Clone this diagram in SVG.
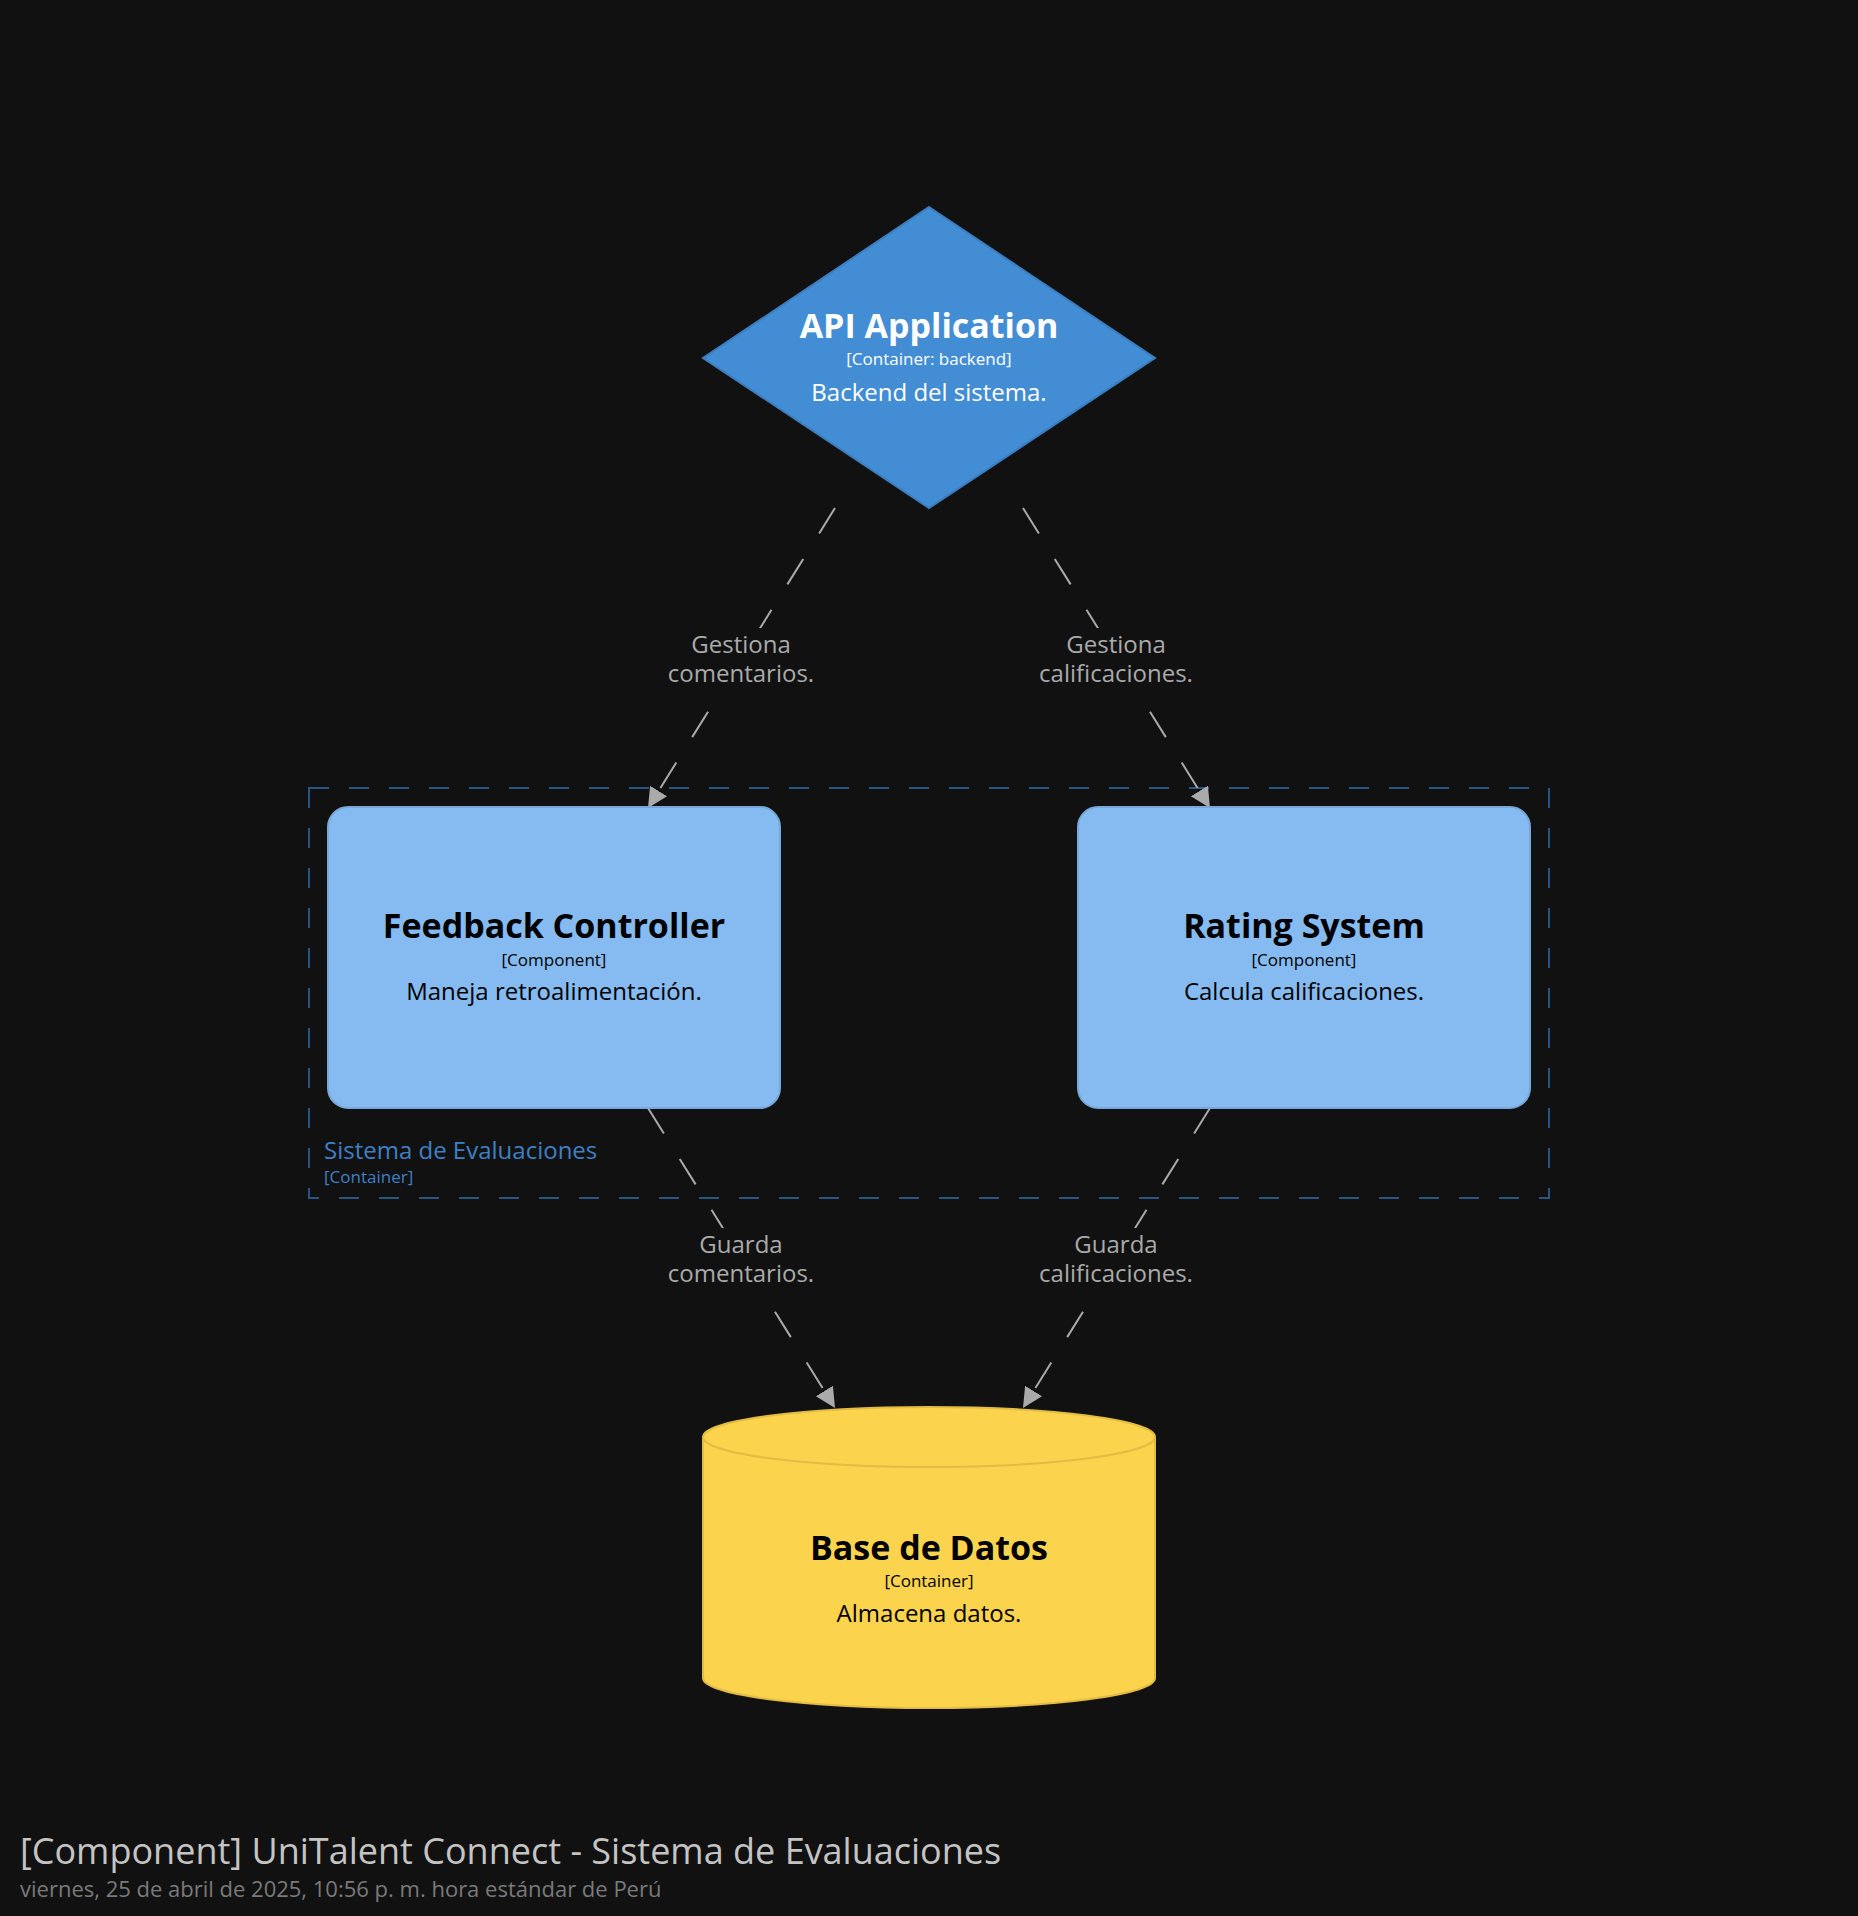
<svg xmlns="http://www.w3.org/2000/svg" width="1858" height="1916" viewBox="0 0 1858 1916">
<defs>
<style>
.t{font-family:"Open Sans","Noto Sans","DejaVu Sans",sans-serif;text-anchor:middle}
.name{font-size:34px;font-weight:bold}
.meta{font-size:17px}
.desc{font-size:24px}
.lbl{font-family:"Open Sans","Noto Sans","DejaVu Sans",sans-serif;font-size:24px;fill:#aaaaaa;text-anchor:middle}
.edge{stroke:#aaaaaa;stroke-width:2;stroke-dasharray:30 30;fill:none}
.lblbg{fill:#111111}
</style>
<marker id="arr" markerUnits="userSpaceOnUse" markerWidth="22" markerHeight="22" refX="20" refY="10" orient="auto" viewBox="0 0 22 22">
<path d="M0,0 L20,10 L0,20 Z" fill="#aaaaaa"/>
</marker>
</defs>
<rect x="0" y="0" width="1858" height="1916" fill="#111111"/>

<g id="boundary-sistema">
<rect x="309" y="788" width="1240" height="410" fill="none" stroke="#285581" stroke-width="2" stroke-dasharray="20 20"/>
<text x="324" y="1159" font-family="'Open Sans','Noto Sans',sans-serif" font-size="24" fill="#3f80c4">Sistema de Evaluaciones</text>
<text x="324" y="1183" font-family="'Open Sans','Noto Sans',sans-serif" font-size="17" fill="#3f80c4">[Container]</text>
</g>

<g id="connectors">
<line class="edge" x1="835" y1="508" x2="648" y2="808" marker-end="url(#arr)"/>
<line class="edge" x1="1023" y1="508" x2="1210" y2="808" marker-end="url(#arr)"/>
<line class="edge" x1="648" y1="1108" x2="835" y2="1408" marker-end="url(#arr)"/>
<line class="edge" x1="1210" y1="1108" x2="1023" y2="1408" marker-end="url(#arr)"/>
<rect class="lblbg" x="661" y="628" width="160" height="64"/>
<text class="lbl" x="741" y="653">Gestiona<tspan x="741" dy="29">comentarios.</tspan></text>
<rect class="lblbg" x="1031" y="628" width="170" height="64"/>
<text class="lbl" x="1116" y="653">Gestiona<tspan x="1116" dy="29">calificaciones.</tspan></text>
<rect class="lblbg" x="661" y="1228" width="160" height="64"/>
<text class="lbl" x="741" y="1253">Guarda<tspan x="741" dy="29">comentarios.</tspan></text>
<rect class="lblbg" x="1031" y="1228" width="170" height="64"/>
<text class="lbl" x="1116" y="1253">Guarda<tspan x="1116" dy="29">calificaciones.</tspan></text>
</g>

<g id="api-application">
<polygon points="929,207 1155,358 929,508 703,358" fill="#438dd5" stroke="#3b7dbf" stroke-width="2"/>
<text class="t name" x="929" y="338" fill="#ffffff">API Application</text>
<text class="t meta" x="929" y="365" fill="#ffffff">[Container: backend]</text>
<text class="t desc" x="929" y="401" fill="#ffffff">Backend del sistema.</text>
</g>

<g id="feedback-controller">
<rect x="328" y="807" width="452" height="301" rx="20" ry="20" fill="#85bbf0" stroke="#77a8d8" stroke-width="2"/>
<text class="t name" x="554" y="938" fill="#000000">Feedback Controller</text>
<text class="t meta" x="554" y="966" fill="#000000">[Component]</text>
<text class="t desc" x="554" y="1000" fill="#000000">Maneja retroalimentación.</text>
</g>

<g id="rating-system">
<rect x="1078" y="807" width="452" height="301" rx="20" ry="20" fill="#85bbf0" stroke="#77a8d8" stroke-width="2"/>
<text class="t name" x="1304" y="938" fill="#000000">Rating System</text>
<text class="t meta" x="1304" y="966" fill="#000000">[Component]</text>
<text class="t desc" x="1304" y="1000" fill="#000000">Calcula calificaciones.</text>
</g>

<g id="base-de-datos">
<path d="M703,1437 A226,30 0 0,1 1155,1437 L1155,1678 A226,30 0 0,1 703,1678 Z" fill="#fcd34d" stroke="#e2bc44" stroke-width="2"/>
<path d="M703,1437 A226,30 0 0,0 1155,1437" fill="none" stroke="#e2bc44" stroke-width="2"/>
<text class="t name" x="929" y="1560" fill="#000000">Base de Datos</text>
<text class="t meta" x="929" y="1587" fill="#000000">[Container]</text>
<text class="t desc" x="929" y="1622" fill="#000000">Almacena datos.</text>
</g>

<g id="title">
<text x="20" y="1864" font-family="'Open Sans','Noto Sans',sans-serif" font-size="36" fill="#c4c4c4">[Component] UniTalent Connect - Sistema de Evaluaciones</text>
<text x="20" y="1897" font-family="'Open Sans','Noto Sans',sans-serif" font-size="22" fill="#7a7a7a">viernes, 25 de abril de 2025, 10:56 p. m. hora estándar de Perú</text>
</g>
</svg>
